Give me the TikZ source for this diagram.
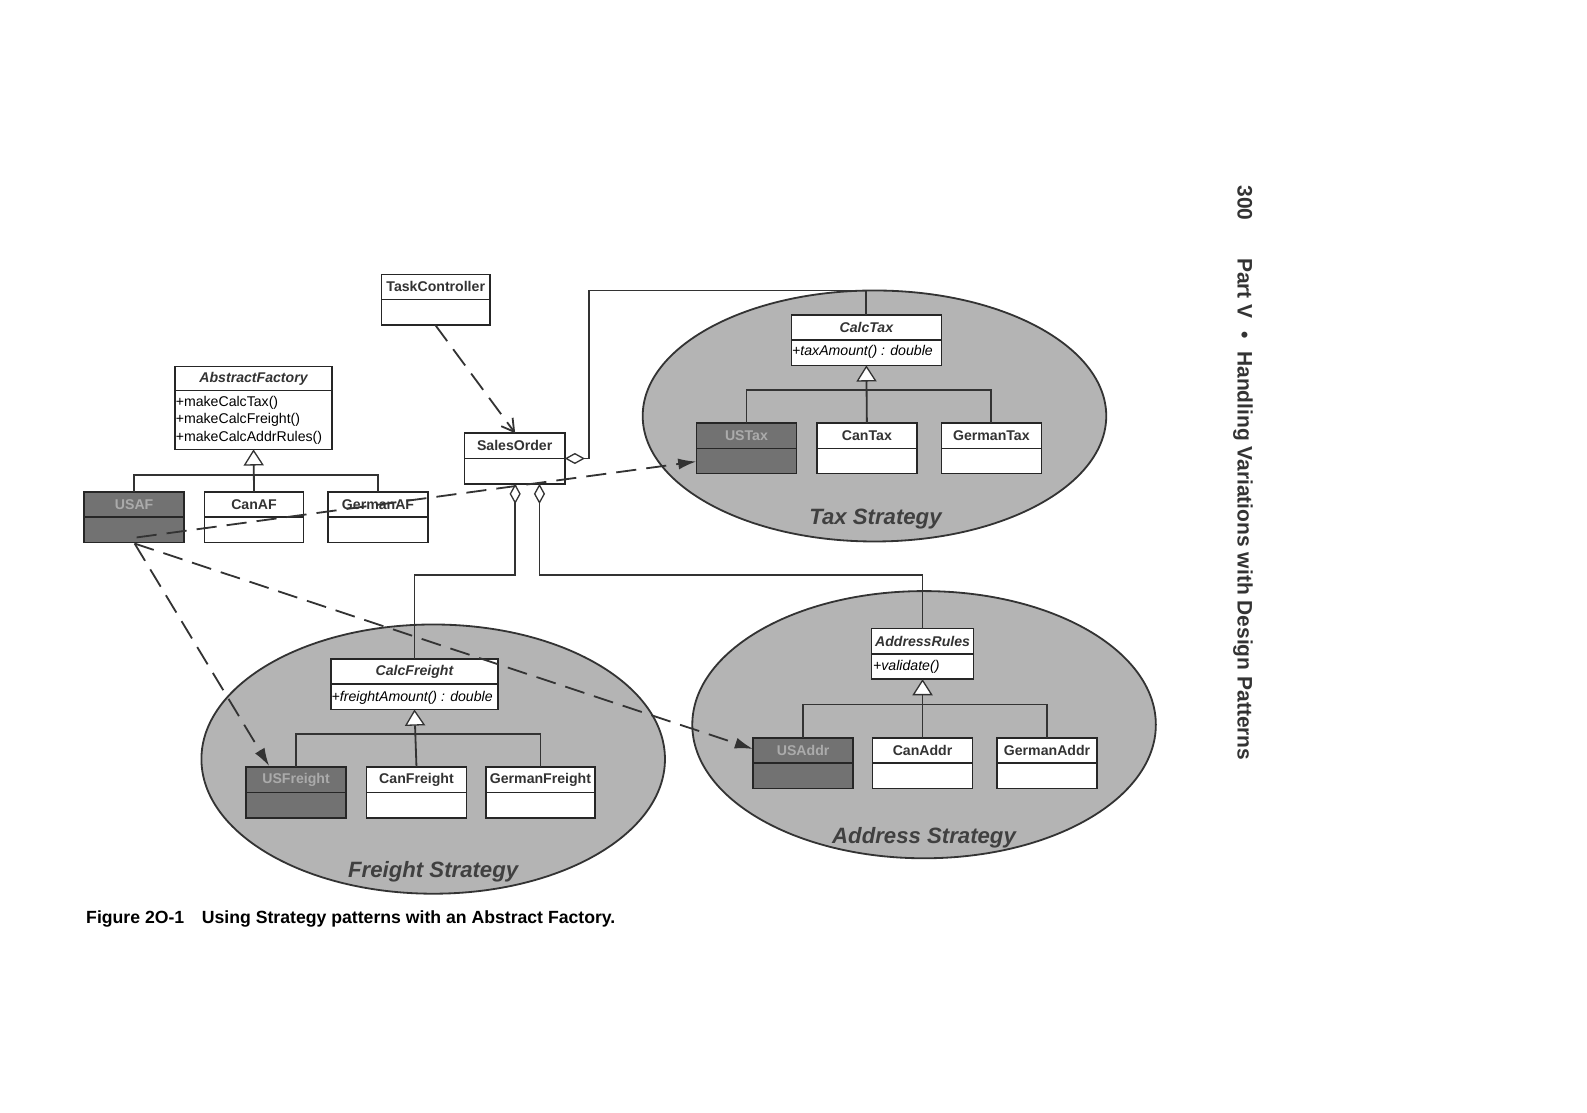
\documentclass[tikz,border=0pt]{standalone}
\usepackage{fontspec}
\setmainfont{Liberation Sans}
\usetikzlibrary{arrows.meta}
\definecolor{ellg}{HTML}{B4B4B4}
\definecolor{darkb}{HTML}{727272}
\tikzset{
 ell/.style={draw=black!80,line width=1.8pt,fill=ellg},
 box/.style={draw=black!85,line width=1.5pt},
 lbl/.style={font=\bfseries\fontsize{14}{16}\selectfont,text=black!80},
 ilbl/.style={font=\bfseries\itshape\fontsize{14}{16}\selectfont,text=black!80},
 op/.style={font=\fontsize{14}{15}\selectfont,anchor=west,inner sep=0.5pt},
 iop/.style={font=\itshape\fontsize{14}{15}\selectfont,anchor=west,inner sep=0.5pt},
 ln/.style={line width=1.8pt,draw=black!80},
 inh/.style={ln,-{Triangle[open,fill=white,length=16pt,width=20pt,line width=1.3pt]}},
 agg/.style={ln,{Diamond[open,fill=white,length=20pt,width=11pt,line width=1.3pt]}-},
 dep/.style={line width=1.8pt,draw=black!80,dash pattern=on 20pt off 10pt,-{Latex[length=18pt,width=11pt]}},
 dep2/.style={line width=1.8pt,draw=black!80,dash pattern=on 20pt off 10pt,-{Straight Barb[length=12pt,width=14pt]}},
 strat/.style={font=\bfseries\itshape\fontsize{22}{26}\selectfont,text=black!75},
 dl/.style={lbl,text=black!33},
}
\newcommand\clsbox[7]{%
 \path[box,fill=#7] (#2,#3) rectangle (#4,#5);
 \draw[box] (#2,#6) -- (#4,#6);
 \coordinate (#1-n) at ({(#2+#4)/2},#3);
 \coordinate (#1-s) at ({(#2+#4)/2},#5);
 \coordinate (#1-t) at ({(#2+#4)/2},{(#3+#6)/2});
}
\begin{document}
\begin{tikzpicture}[x=1bp,y=-1bp]
\useasboundingbox (0,0) rectangle (1568,1099);
\fill[white] (0,0) rectangle (1568,1099);
\path[ell] (864,411) ellipse [x radius=229,y radius=124];
\path[ell] (428,750) ellipse [x radius=229,y radius=133];
\path[ell] (913,716) ellipse [x radius=229,y radius=132];
\clsbox{tc}{377}{271}{484}{321}{296}{white}
\clsbox{af}{173}{362}{328}{444}{386}{white}
\clsbox{usaf}{83}{486}{182}{536}{511}{darkb}
\clsbox{canaf}{202}{486}{300}{536}{511}{white}
\clsbox{geraf}{324}{486}{423}{536}{511}{white}
\clsbox{so}{459}{428}{558}{478}{453}{white}
\clsbox{ct}{782}{311}{930}{361}{336}{white}
\clsbox{ust}{688}{418}{787}{468}{443}{darkb}
\clsbox{cant}{807}{418}{906}{468}{443}{white}
\clsbox{gert}{930}{418}{1029}{468}{443}{white}
\clsbox{cf}{327}{651}{492}{701}{676}{white}
\clsbox{usf}{243}{758}{342}{808}{783}{darkb}
\clsbox{canf}{362}{758}{461}{808}{783}{white}
\clsbox{gerf}{480}{758}{588}{808}{783}{white}
\clsbox{ar}{861}{621}{962}{671}{646}{white}
\clsbox{usa}{744}{729}{843}{779}{754}{darkb}
\clsbox{cana}{862}{729}{961}{779}{754}{white}
\clsbox{gera}{985}{729}{1084}{779}{754}{white}
\node[lbl] (tcl) at (tc-t) {TaskController};
\node[ilbl] (afl) at (af-t) {AbstractFactory};
\node[op] (afo1) at (173,398) {+makeCalcTax()};
\node[op] (afo2) at (173,415) {+makeCalcFreight()};
\node[op] (afo3) at (173,433) {+makeCalcAddrRules()};
\node[dl] (usafl) at (usaf-t) {USAF};
\node[lbl] (canafl) at (canaf-t) {CanAF};
\node[lbl] (gerafl) at (geraf-t) {GermanAF};
\node[lbl] (sol) at (so-t) {SalesOrder};
\node[ilbl] (ctl) at (ct-t) {CalcTax};
\node[iop] (cto) at (782,348) {+taxAmount() : double};
\node[dl] (ustl) at (ust-t) {USTax};
\node[lbl] (cantl) at (cant-t) {CanTax};
\node[lbl] (gertl) at (gert-t) {GermanTax};
\node[ilbl] (cfl) at (cf-t) {CalcFreight};
\node[iop] (cfo) at (327,689) {+freightAmount() : double};
\node[dl] (usfl) at (usf-t) {USFreight};
\node[lbl] (canfl) at (canf-t) {CanFreight};
\node[lbl] (gerfl) at (gerf-t) {GermanFreight};
\node[ilbl] (arl) at (ar-t) {AddressRules};
\node[iop] (aro) at (862,659) {+validate()};
\node[dl] (usal) at (usa-t) {USAddr};
\node[lbl] (canal) at (cana-t) {CanAddr};
\node[lbl] (geral) at (gera-t) {GermanAddr};
\node[strat] (ts) at (865,513) {Tax Strategy};
\node[strat] (fs) at (428,861) {Freight Strategy};
\node[strat] (as) at (913,828) {Address Strategy};
\draw[ln] (usaf-n) |- (251,469) -| (geraf-n);
\draw[inh] (canaf-n) -- (af-s);
\draw[ln] (ust-n) |- (856,385) -| (gert-n);
\draw[inh] (cant-n) -- (ct-s);
\draw[ln] (usf-n) |- (410,725) -| (gerf-n);
\draw[inh] (canf-n) -- (cf-s);
\draw[ln] (usa-n) |- (912,696) -| (gera-n);
\draw[inh] (cana-n) -- (ar-s);
\coordinate (soR) at (558,453);
\coordinate (soB1) at (509,478);
\coordinate (soB2) at (533,478);
\draw[agg] (soR) -- (582,453) |- (856,287) -- (ct-n);
\draw[agg] (soB1) -- (509,568) -| (cf-n);
\draw[agg] (soB2) -- (533,568) -| (ar-n);
\coordinate (tcs) at (430,321);
\coordinate (son) at (509,428);
\draw[dep2] (tcs) -- (son);
\coordinate (usafa) at (135,531);
\coordinate (usafb) at (133,537);
\coordinate (ustw) at (688,456);
\coordinate (usfn) at (266,757);
\coordinate (usaw) at (744,740);
\draw[dep] (usafa) -- (ustw);
\draw[dep] (usafb) -- (usfn);
\draw[dep] (usafb) -- (usaw);
\node[anchor=west,inner sep=0pt,font=\bfseries\fontsize{17.5}{20}\selectfont] (cap) at (85,908) {Figure 2O-1\hspace{1em}Using Strategy patterns with an Abstract Factory.};
\node[anchor=north west,inner sep=0pt,rotate=-90,font=\bfseries\fontsize{20.8}{24}\selectfont,text=black!80] (side) at (1238,183) {300\hspace{1.8em}Part V\hspace{0.6em}•\hspace{0.6em}Handling Variations with Design Patterns};
\end{tikzpicture}
\end{document}
